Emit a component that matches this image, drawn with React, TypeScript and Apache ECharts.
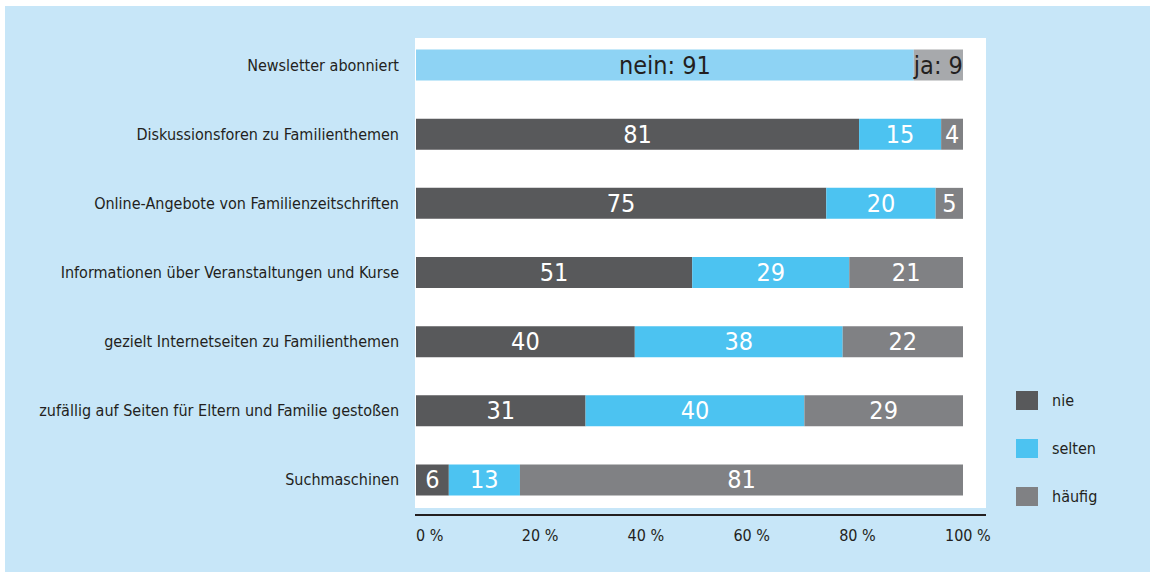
import React, { useEffect, useRef } from "react";
import * as echarts from "echarts";

const categories = [
  "Newsletter abonniert",
  "Diskussionsforen zu Familienthemen",
  "Online-Angebote von Familienzeitschriften",
  "Informationen über Veranstaltungen und Kurse",
  "gezielt Internetseiten zu Familienthemen",
  "zufällig auf Seiten für Eltern und Familie gestoßen",
  "Suchmaschinen",
];
// index 0 (Newsletter) uses nein/ja instead
const nie = [null, 81, 75, 51, 40, 31, 6];
const selten = [null, 15, 20, 29, 38, 40, 13];
const haeufig = [null, 4, 5, 21, 22, 29, 81];
const nein = [91, null, null, null, null, null, null];
const ja = [9, null, null, null, null, null, null];
const tickValues = [0, 20, 40, 60, 80, 100];

const FONT = "'Liberation Sans Narrow', 'DejaVu Sans Condensed', 'Roboto', sans-serif";

export default function App() {
  const ref = useRef<HTMLDivElement>(null);
  useEffect(() => {
    const chart = echarts.init(ref.current!, null, { renderer: "svg" });
    const totals = categories.map((_, i) =>
      [nie[i], selten[i], haeufig[i], nein[i], ja[i]].reduce((s: number, v) => s + (v ?? 0), 0)
    );
    const mk = (arr: (number | null)[]) =>
      arr.map((v, i) => (v == null ? null : { value: (v / totals[i]) * 100, raw: v }));
    const labelWhite = {
      show: true,
      color: "#ffffff",
      fontFamily: FONT,
      fontSize: 25,
      formatter: (p: any) => String(p.data.raw),
    };
    const labelDark = (prefix: string) => ({
      show: true,
      color: "#231f20",
      fontFamily: FONT,
      fontSize: 25,
      formatter: (p: any) => `${prefix}: ${p.data.raw}`,
    });
    const base = { type: "bar", stack: "total", barWidth: 31, xAxisIndex: 0, yAxisIndex: 0 };
    chart.setOption({
      animation: false,
      backgroundColor: "#ffffff",
      graphic: [
        { type: "rect", z: -10, shape: { x: 5, y: 6, width: 1145, height: 566 }, style: { fill: "#c7e6f8" } },
        { type: "rect", z: -9, shape: { x: 415, y: 38, width: 571, height: 470 }, style: { fill: "#ffffff" } },
        { type: "line", z: 5, shape: { x1: 415, y1: 515, x2: 986, y2: 515 }, style: { stroke: "#231f20", lineWidth: 2 } },
      ],
      grid: [
        { left: 416, width: 547, top: 30.5, height: 484, containLabel: false },
        { left: 416, width: 529, top: 500, height: 15, containLabel: false },
      ],
      xAxis: [
        { type: "value", gridIndex: 0, min: 0, max: 100, show: false },
        {
          type: "value",
          gridIndex: 1,
          min: 0,
          max: 100,
          interval: 20,
          axisLine: { show: false },
          axisTick: { show: false },
          splitLine: { show: false },
          axisLabel: {
            align: "left",
            margin: 12,
            color: "#231f20",
            fontFamily: FONT,
            fontSize: 16,
            formatter: (v: number) => (tickValues.includes(v) ? `${v} %` : ""),
          },
        },
      ],
      yAxis: [
        {
          type: "category",
          gridIndex: 0,
          data: categories,
          inverse: true,
          axisLine: { show: false },
          axisTick: { show: false },
          axisLabel: { margin: 17, color: "#231f20", fontFamily: FONT, fontSize: 16 },
        },
        { type: "value", gridIndex: 1, show: false },
      ],
      legend: {
        data: ["nie", "selten", "häufig"],
        orient: "vertical",
        left: 1016,
        top: 391,
        padding: 0,
        icon: "rect",
        itemWidth: 22,
        itemHeight: 19,
        itemGap: 29,
        textStyle: { color: "#231f20", fontFamily: FONT, fontSize: 16, padding: [0, 0, 0, 9] },
        selectedMode: false,
      },
      series: [
        { ...base, name: "nie", data: mk(nie), itemStyle: { color: "#58595b" }, label: labelWhite },
        { ...base, name: "selten", data: mk(selten), itemStyle: { color: "#4cc3f1" }, label: labelWhite },
        { ...base, name: "häufig", data: mk(haeufig), itemStyle: { color: "#808184" }, label: labelWhite },
        { ...base, name: "nein", data: mk(nein), itemStyle: { color: "#8ed3f4" }, label: labelDark("nein") },
        { ...base, name: "ja", data: mk(ja), itemStyle: { color: "#a7a9ac" }, label: labelDark("ja") },
      ],
    });
    return () => chart.dispose();
  }, []);
  return (
    <div
      ref={ref}
      style={{ position: "fixed", left: 0, top: 0, width: 1154, height: 572 }}
    />
  );
}
